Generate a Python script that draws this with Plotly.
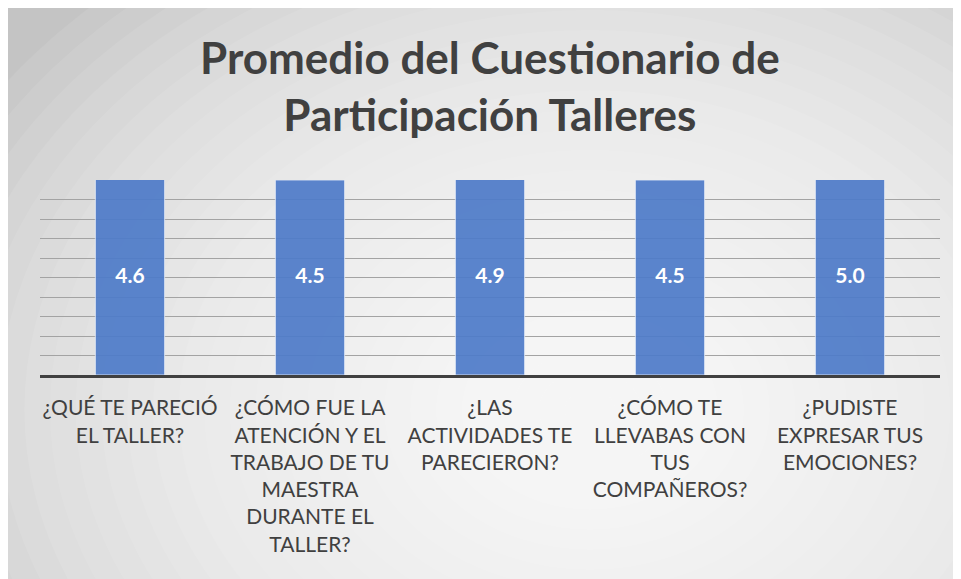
import plotly.graph_objects as go

categories = [
    "¿QUÉ TE PARECIÓ<br>EL TALLER?",
    "¿CÓMO FUE LA<br>ATENCIÓN Y EL<br>TRABAJO DE TU<br>MAESTRA<br>DURANTE EL<br>TALLER?",
    "¿LAS<br>ACTIVIDADES TE<br>PARECIERON?",
    "¿CÓMO TE<br>LLEVABAS CON<br>TUS<br>COMPAÑEROS?",
    "¿PUDISTE<br>EXPRESAR TUS<br>EMOCIONES?",
]
values = [4.6, 4.5, 4.9, 4.5, 5.0]
labels = [f"{v:.1f}" for v in values]

title_text = "Promedio del Cuestionario de<br>Participación Talleres"

# page places the figure 8px from the top-left corner
OFF = 8
W, H = 961, 579
ML, MR, MT, MB = 32, 29, 172, 212
PW, PH = W - ML - MR, H - MT - MB

YMAX = 4.5
YTICK = 0.45

def px_x(p):  # screen pixel -> paper x
    return (p - OFF - ML) / PW

def px_y(p):  # screen pixel -> paper y
    return (H - MB - (p - OFF)) / PH

FONT = "Lato"

fig = go.Figure()
fig.add_trace(go.Bar(
    x=categories, y=values, width=0.385,
    marker=dict(color="#4e7bc9", opacity=0.92,
                line=dict(color="rgba(235,240,250,0.8)", width=1)),
    hoverinfo="skip", showlegend=False,
))
fig.add_trace(go.Scatter(
    x=categories, y=[YMAX / 2] * len(values), text=labels, mode="text",
    textfont=dict(family=FONT, size=21, color="white", weight="bold"),
    hoverinfo="skip", showlegend=False,
))

shapes = []
cx, cy = 590, 410
N = 28
for i in range(N):
    f = 1 - i / N
    rx, ry = 720 * f, 560 * f
    shapes.append(dict(type="circle", xref="paper", yref="paper", layer="below",
                       x0=px_x(cx - rx), x1=px_x(cx + rx),
                       y0=px_y(cy + ry), y1=px_y(cy - ry),
                       fillcolor="rgba(255,255,255,0.085)", line=dict(width=0)))

fig.update_layout(
    width=W, height=H,
    margin=dict(l=ML, r=MR, t=MT, b=MB),
    paper_bgcolor="#c4c4c4", plot_bgcolor="rgba(0,0,0,0)",
    shapes=shapes,
    annotations=[dict(text=title_text, xref="paper", yref="paper",
                      x=px_x(490), y=px_y(86), xanchor="center", yanchor="middle",
                      showarrow=False, align="center",
                      font=dict(family=FONT, size=44, color="#404040", weight="bold"))],
    xaxis=dict(showline=True, linecolor="#404040", linewidth=3,
               tickfont=dict(family=FONT, size=21, color="#404040"),
               ticklabelstandoff=12,
               ticks="", showgrid=False, fixedrange=True),
    yaxis=dict(range=[0, YMAX + 1e-6], dtick=YTICK, tick0=0,
               showticklabels=False, showgrid=True, gridcolor="#a3a3a3",
               gridwidth=1, zeroline=False, fixedrange=True),
    bargap=0.6,
)

fig.write_html("out.html")
